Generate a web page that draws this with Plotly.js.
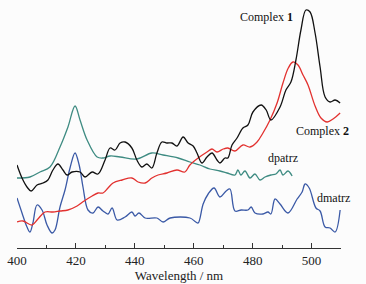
<!DOCTYPE html>
<html>
<head>
<meta charset="utf-8">
<script src="https://cdn.plot.ly/plotly-3.0.1.min.js"></script>
<style>html,body{margin:0;padding:0;background:#fcfcfc;}#chart{width:366px;height:284px;}</style>
</head>
<body>
<div id="chart"></div>
<script>
// Complex 1 (black)
const c1X = [400.0,401.7,403.4,404.8,406.8,408.8,410.5,412.2,413.9,415.6,417.0,418.7,421.4,423.1,425.5,427.5,429.9,431.6,433.3,435.0,436.7,439.0,440.7,442.4,444.1,445.8,447.5,449.2,450.9,452.6,454.3,456.4,458.1,459.8,461.1,462.8,464.5,466.2,467.9,468.9,470.6,471.6,473.0,474.7,476.7,478.4,480.1,482.9,484.6,486.2,489.3,491.3,493.0,494.7,496.4,498.1,499.5,501.2,502.9,504.6,506.3,508.0,509.7];
const c1Y = [83,70,61,57,63,65,68,78,84,78,73,76,76,71,76,74,88,100,98,105,106,100,88,81,84,80,95,106,105,105,102,111,105,102,95,85,91,95,88,85,90,90,103,110,120,123,136,143,138,128,141,158,166,188,218,238,236,215,181,151,146,148,145];

// Complex 2 (red)
const c2X = [400.0,402.0,405.1,407.1,409.5,412.2,414.6,417.3,420.4,422.8,425.5,427.5,429.2,430.9,432.6,435.7,439.0,441.1,443.5,445.8,447.9,450.9,454.3,457.0,458.7,461.5,464.5,466.2,467.9,470.0,471.6,474.0,476.7,479.1,481.5,483.5,485.9,488.3,490.3,492.1,493.7,495.4,497.1,498.8,501.2,503.2,505.3,507.3,509.7];
const c2Y = [26,27,23,29,36,36,37,38,42,47,52,55,55,60,65,68,70,66,65,70,73,75,78,76,83,90,96,99,96,99,100,97,103,101,106,115,128,145,165,180,186,183,173,163,142,130,126,129,135];

// dpatrz (teal)
const dpX = [400.0,404.4,407.8,411.2,414.6,417.3,419.7,421.4,423.8,427.2,429.2,431.6,435.0,440.7,445.8,449.6,454.7,458.7,462.1,465.5,468.9,471.3,474.0,475.0,476.0,477.4,479.1,480.8,482.5,484.2,486.2,487.9,489.3,490.3,492.0,493.4];
const dpY = [70,71,76,81,101,121,142,128,108,91,90,92,91,89,95,93,90,86,83,79,77,75,73,78,73,77,70,74,68,71,73,74,78,73,77,72];

// dmatrz (blue)
const dmX = [400.0,401.7,403.4,404.4,405.4,406.8,408.5,410.2,411.9,412.9,414.6,416.3,418.0,419.7,421.1,422.4,424.1,425.8,427.5,429.2,430.9,432.3,434.0,436.7,439.0,440.1,441.4,443.5,447.5,449.6,452.0,458.7,460.7,461.5,463.2,464.9,466.9,468.9,471.0,472.3,474.0,476.1,478.4,479.5,480.8,483.5,485.2,486.2,487.6,489.3,492.0,495.1,496.8,497.8,499.2,501.5,502.9,504.6,506.3,508.0,509.7];
const dmY = [50,35,21,16,25,43,38,23,15,18,41,58,80,95,83,61,38,35,41,37,34,40,28,31,36,32,35,30,30,26,30,30,26,25,44,54,60,51,57,59,37,38,38,41,35,34,36,34,49,44,35,49,56,64,60,40,37,21,20,16,38];

const tickVals = [400,420,440,460,480,500];
const tickText = ['400','420','440','460','480','500'];

const font = "'Liberation Serif', 'Times New Roman', serif";
function tr(x, y, color) {
  return {x: x, y: y, type: 'scatter', mode: 'lines',
    line: {color: color, width: 1.3, shape: 'spline', smoothing: 1},
    hoverinfo: 'skip', showlegend: false};
}
const data = [
  tr(dmX, dmY, '#3a59a6'),
  tr(dpX, dpY, '#3e8b82'),
  tr(c2X, c2Y, '#e2312f'),
  tr(c1X, c1Y, '#111111')
];
const layout = {
  width: 366, height: 284,
  margin: {l: 17, r: 25, t: 2, b: 36},
  paper_bgcolor: '#fcfcfc', plot_bgcolor: '#fcfcfc',
  font: {family: font, size: 12, color: '#222'},
  xaxis: {
    range: [400, 510], showgrid: false, zeroline: false,
    showline: true, linecolor: '#333', linewidth: 1,
    ticks: 'inside', ticklen: 5, tickcolor: '#333',
    tickvals: tickVals, ticktext: tickText,
    tickfont: {family: font, size: 13, color: '#222'},
    minor: {dtick: 10, tick0: 400, ticks: 'inside', ticklen: 3, tickcolor: '#333', showgrid: false},
    title: {text: 'Wavelength / nm', font: {family: font, size: 13, color: '#222'}, standoff: 2}
  },
  yaxis: {range: [0, 246], visible: false, fixedrange: true},
  annotations: [
    {x: 494.4, y: 231, xref: 'x', yref: 'y', text: 'Complex <b>1</b>', showarrow: false, xanchor: 'right', yanchor: 'middle', font: {family: font, size: 12, color: '#111'}},
    {x: 494.1, y: 117, xref: 'x', yref: 'y', text: 'Complex <b>2</b>', showarrow: false, xanchor: 'left', yanchor: 'middle', font: {family: font, size: 12, color: '#111'}},
    {x: 484.6, y: 90, xref: 'x', yref: 'y', text: 'dpatrz', showarrow: false, xanchor: 'left', yanchor: 'middle', font: {family: font, size: 12, color: '#111'}},
    {x: 501.2, y: 50, xref: 'x', yref: 'y', text: 'dmatrz', showarrow: false, xanchor: 'left', yanchor: 'middle', font: {family: font, size: 12, color: '#111'}}
  ]
};
Plotly.newPlot('chart', data, layout, {displayModeBar: false, staticPlot: true});
</script>
</body>
</html>
